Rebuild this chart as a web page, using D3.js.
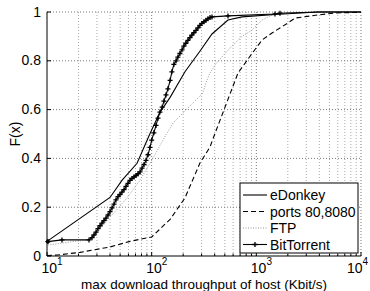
<!DOCTYPE html>
<html>
<head>
<meta charset="utf-8">
<script src="https://cdn.jsdelivr.net/npm/d3@7"></script>
<style>
  body { margin: 0; background: #fff; }
  svg { font-family: "Liberation Sans", Arial, sans-serif; }
</style>
</head>
<body>
<svg width="370" height="291"></svg>
<script>
const width = 370;
const height = 291;
const margin = {top: 12, right: 9, bottom: 35, left: 47};

// throughput (Kbit/s) vs F(x)
const eDonkeyX = [10, 40, 52, 72.5, 96, 119, 150, 208, 290, 377, 536, 729, 1507, 3890, 10000];
const eDonkeyY = [0.06, 0.24, 0.31, 0.38, 0.5, 0.586, 0.65, 0.755, 0.84, 0.91, 0.967, 0.98, 0.99, 1.0, 1.0];

const portsX = [10, 12.5, 20.7, 40, 62, 100, 150, 208, 290, 361, 401, 502, 668, 910, 1133, 1413, 2000, 2340, 3890, 5630, 10000];
const portsY = [0.002, 0.004, 0.015, 0.037, 0.06, 0.078, 0.15, 0.238, 0.382, 0.447, 0.5, 0.61, 0.75, 0.83, 0.885, 0.914, 0.955, 0.975, 0.988, 0.996, 0.999];

const ftpX = [10.2, 13.9, 18.5, 20.7, 22.8, 25.2, 30, 33.5, 40, 49, 61, 77, 98, 128, 160, 199, 247, 309, 330, 361, 415, 536, 729, 910, 1133, 1413, 1760, 3890, 10000];
const ftpY = [0.045, 0.053, 0.06, 0.062, 0.064, 0.066, 0.094, 0.12, 0.16, 0.2, 0.25, 0.31, 0.385, 0.475, 0.545, 0.586, 0.627, 0.668, 0.71, 0.75, 0.79, 0.844, 0.9, 0.926, 0.967, 0.988, 0.996, 1.0, 1.0];

const btX = [10.2, 13.9, 25.2, 26.9, 28.1, 29.4, 30.7, 32.1, 33.5, 35, 36.6, 38.3, 40, 41.8, 43.7, 45.6, 47.7, 49.8, 52, 54.4, 56.8, 59.4, 62.1, 64.9, 67.8, 70.9, 74.1, 77.4, 80.9, 84.5, 88.3, 92.3, 96.4, 100, 105, 110, 115, 120, 126, 131, 137, 143, 150, 156, 163, 171, 178, 186, 195, 203, 212, 222, 232, 242, 253, 265, 277, 289, 302, 316, 330, 345, 361, 377, 536, 1507, 1682, 3890, 10000];
const btY = [0.059, 0.066, 0.066, 0.075, 0.086, 0.098, 0.112, 0.124, 0.135, 0.145, 0.155, 0.168, 0.182, 0.197, 0.213, 0.23, 0.243, 0.252, 0.262, 0.272, 0.285, 0.298, 0.31, 0.318, 0.324, 0.33, 0.337, 0.345, 0.36, 0.375, 0.392, 0.415, 0.445, 0.475, 0.505, 0.535, 0.565, 0.59, 0.61, 0.635, 0.66, 0.685, 0.72, 0.755, 0.785, 0.8, 0.815, 0.83, 0.845, 0.86, 0.872, 0.884, 0.895, 0.905, 0.915, 0.925, 0.935, 0.945, 0.953, 0.96, 0.966, 0.972, 0.977, 0.98, 0.984, 0.992, 0.995, 1.0, 1.0];
const btMarkerCount = btX.length - 2;

const yTicks = [0, 0.2, 0.4, 0.6, 0.8, 1];
const xDecades = [10, 100, 1000, 10000];
const legendNames = ['eDonkey', 'ports 80,8080', 'FTP', 'BitTorrent'];

const x = d3.scaleLog()
    .domain([10, 10000])
    .range([margin.left, width - margin.right]);
const y = d3.scaleLinear()
    .domain([0, 1])
    .range([height - margin.bottom, margin.top]);

const svg = d3.select('svg');

// minor + major x positions
const xMinor = [];
for (const d of [10, 100, 1000]) {
    for (let k = 1; k < 10; k++) xMinor.push(d * k);
}
xMinor.push(10000);

const grid = svg.append('g').attr('class', 'grid');
grid.selectAll('.vx')
    .data(xMinor.filter(v => v > 10))
    .enter()
    .append('line')
        .attr('x1', d => x(d))
        .attr('x2', d => x(d))
        .attr('y1', y(0))
        .attr('y2', y(1))
        .attr('stroke', d => xDecades.includes(d) ? '#777' : '#aaa')
        .attr('stroke-width', 1)
        .attr('stroke-dasharray', '1,2');
grid.selectAll('.hy')
    .data(yTicks.filter(v => v > 0))
    .enter()
    .append('line')
        .attr('x1', x(10))
        .attr('x2', x(10000))
        .attr('y1', d => y(d))
        .attr('y2', d => y(d))
        .attr('stroke', '#777')
        .attr('stroke-width', 1)
        .attr('stroke-dasharray', '1,2');

const line = d3.line()
    .x(d => x(d[0]))
    .y(d => y(d[1]));

const zip = (a, b) => a.map((v, i) => [v, b[i]]);

svg.append('path')
    .datum(zip(ftpX, ftpY))
    .attr('d', line)
    .attr('fill', 'none')
    .attr('stroke', '#999')
    .attr('stroke-width', 1)
    .attr('stroke-dasharray', '1,1.5');

svg.append('path')
    .datum(zip(portsX, portsY))
    .attr('d', line)
    .attr('fill', 'none')
    .attr('stroke', '#000')
    .attr('stroke-width', 1.1)
    .attr('stroke-dasharray', '5,3');

svg.append('path')
    .datum(zip(eDonkeyX, eDonkeyY))
    .attr('d', line)
    .attr('fill', 'none')
    .attr('stroke', '#000')
    .attr('stroke-width', 1.1);

const btData = zip(btX, btY);
svg.append('path')
    .datum(btData)
    .attr('d', line)
    .attr('fill', 'none')
    .attr('stroke', '#000')
    .attr('stroke-width', 1.1);

// '+' markers
const plusPath = 'M-2.5,0H2.5M0,-2.5V2.5';
svg.append('g')
    .selectAll('path')
    .data(btData.slice(0, btMarkerCount))
    .enter()
    .append('path')
        .attr('transform', d => `translate(${x(d[0])},${y(d[1])})`)
        .attr('d', plusPath)
        .attr('fill', 'none')
        .attr('stroke', '#000')
        .attr('stroke-width', 1.3);
svg.append('circle')
    .attr('cx', x(btX[0]))
    .attr('cy', y(btY[0]))
    .attr('r', 2)
    .attr('fill', '#000');

// axes lines (box off: left + bottom only)
svg.append('line')
    .attr('x1', x(10)).attr('x2', x(10))
    .attr('y1', y(0)).attr('y2', y(1))
    .attr('stroke', '#000').attr('stroke-width', 1);
svg.append('line')
    .attr('x1', x(10)).attr('x2', x(10000))
    .attr('y1', y(0)).attr('y2', y(0))
    .attr('stroke', '#000').attr('stroke-width', 1);

// inward ticks
svg.append('g')
    .selectAll('line')
    .data(xMinor)
    .enter()
    .append('line')
        .attr('x1', d => x(d)).attr('x2', d => x(d))
        .attr('y1', y(0))
        .attr('y2', d => y(0) - (xDecades.includes(d) ? 4 : 2.5))
        .attr('stroke', '#000');
svg.append('g')
    .selectAll('line')
    .data(yTicks)
    .enter()
    .append('line')
        .attr('x1', x(10)).attr('x2', x(10) + 4)
        .attr('y1', d => y(d)).attr('y2', d => y(d))
        .attr('stroke', '#000');

// tick labels
svg.append('g')
    .selectAll('text')
    .data(yTicks)
    .enter()
    .append('text')
        .attr('x', x(10) - 6)
        .attr('y', d => y(d) + 4.5)
        .attr('text-anchor', 'end')
        .style('font-size', '14px')
        .text(d => d === 0 || d === 1 ? d : d.toFixed(1));

const xl = svg.append('g')
    .selectAll('text')
    .data(xDecades)
    .enter()
    .append('text')
        .attr('x', d => Math.min(x(d) - 5.5, width - 23))
        .attr('y', 273.3)
        .style('font-size', '14px');
xl.append('tspan').text('10');
xl.append('tspan')
    .attr('dy', -8)
    .style('font-size', '10px')
    .text(d => Math.round(Math.log10(d)));

svg.append('text')
    .attr('x', 204)
    .attr('y', 288.8)
    .attr('text-anchor', 'middle')
    .style('font-size', '13.5px')
    .text('max download throughput of host (Kbit/s)');

svg.append('text')
    .attr('transform', `translate(20, ${y(0.5)}) rotate(-90)`)
    .attr('text-anchor', 'middle')
    .style('font-size', '14px')
    .text('F(x)');

// legend
const legend = svg.append('g').attr('transform', 'translate(240, 183)');
legend.append('rect')
    .attr('width', 118)
    .attr('height', 70)
    .attr('fill', '#fff')
    .attr('stroke', '#000')
    .attr('stroke-width', 1);

const legendStyles = [
    {stroke: '#000', dash: null},
    {stroke: '#000', dash: '5,3'},
    {stroke: '#999', dash: '1,1.5'},
    {stroke: '#000', dash: null}
];
const rows = legend.selectAll('.row')
    .data(legendNames)
    .enter()
    .append('g')
        .attr('transform', (_, i) => `translate(0, ${12 + i * 16.5})`);
rows.append('line')
    .attr('x1', 3).attr('x2', 27)
    .attr('y1', 0).attr('y2', 0)
    .attr('stroke', (_, i) => legendStyles[i].stroke)
    .attr('stroke-width', 1.1)
    .attr('stroke-dasharray', (_, i) => legendStyles[i].dash);
rows.filter((_, i) => i === 3)
    .append('path')
        .attr('transform', 'translate(15,0)')
        .attr('d', plusPath)
        .attr('fill', 'none')
        .attr('stroke', '#000')
        .attr('stroke-width', 1.3);
rows.append('text')
    .attr('x', 30)
    .attr('y', 5)
    .style('font-size', '14px')
    .text(d => d);
</script>
</body>
</html>
